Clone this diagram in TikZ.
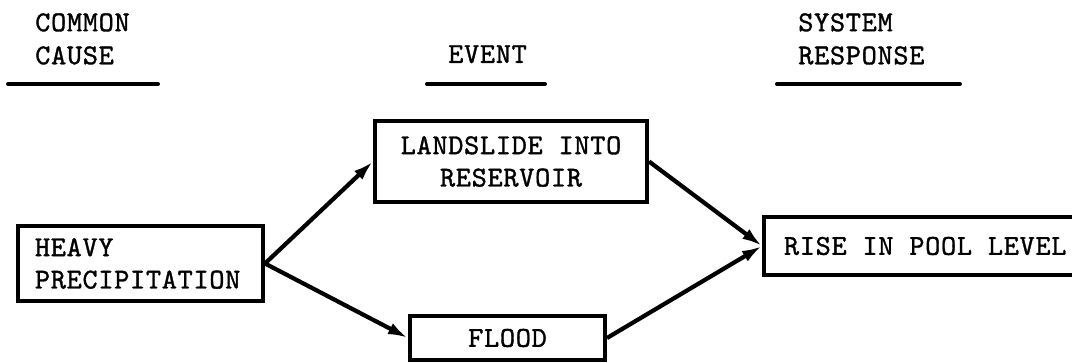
\documentclass[tikz,border=0pt]{standalone}
\usepackage{fontspec}
\setmonofont{lmmono10-regular}[Extension=.otf, LetterSpace=2.5, FakeBold=1.2]
\usetikzlibrary{arrows.meta}

\begin{document}
\begin{tikzpicture}[x=0.025cm, y=0.025cm, font=\ttfamily\fontsize{20.5}{23}\selectfont, arrow/.style={-{Latex[length=0.5cm,width=0.3cm]}, line width=3pt}, eventbox/.style={rectangle, draw, line width=2.8pt, inner sep=0pt}, heading/.style={anchor=north west, inner sep=0pt, align=left, font=\ttfamily\fontsize{20.5}{23.5}\selectfont}, rule/.style={draw, line width=2.8pt, line cap=round}]

        \useasboundingbox (0,0) rectangle (1072,362);

        \node [heading] (cause) at (35,349) {COMMON\\CAUSE};
        \node [heading] (event) at (448,317) {EVENT};
        \node [heading] (response) at (798,349) {SYSTEM\\RESPONSE};
        \path [rule] (8,278) -- (158,278);
        \path [rule] (427,278) -- (545,278);
        \path [rule] (777,278) -- (960,278);

        \node [eventbox, minimum width=6.125cm, minimum height=1.875cm, text width=5.275cm, align=left] (precip) at (140.5,98.5) {HEAVY\\PRECIPITATION};
        \node [eventbox, minimum width=6.8cm, minimum height=2.025cm, align=center] (landslide) at (511,200.5) {LANDSLIDE INTO\\RESERVOIR};
        \node [eventbox, minimum width=4.875cm, minimum height=1.1cm] (flood) at (507.5,24) {FLOOD};
        \node [eventbox, anchor=west, minimum height=1.45cm, inner xsep=0.5cm] (pool) at (762,116) {RISE IN POOL LEVEL};

        \draw[arrow] (precip.east) -- (landslide.west);
        \draw[arrow] (precip.east) -- (flood.west);
        \draw[arrow] (landslide.east) -- (pool.west);
        \draw[arrow] (flood.east) -- (pool.west);

    \end{tikzpicture}
\end{document}
